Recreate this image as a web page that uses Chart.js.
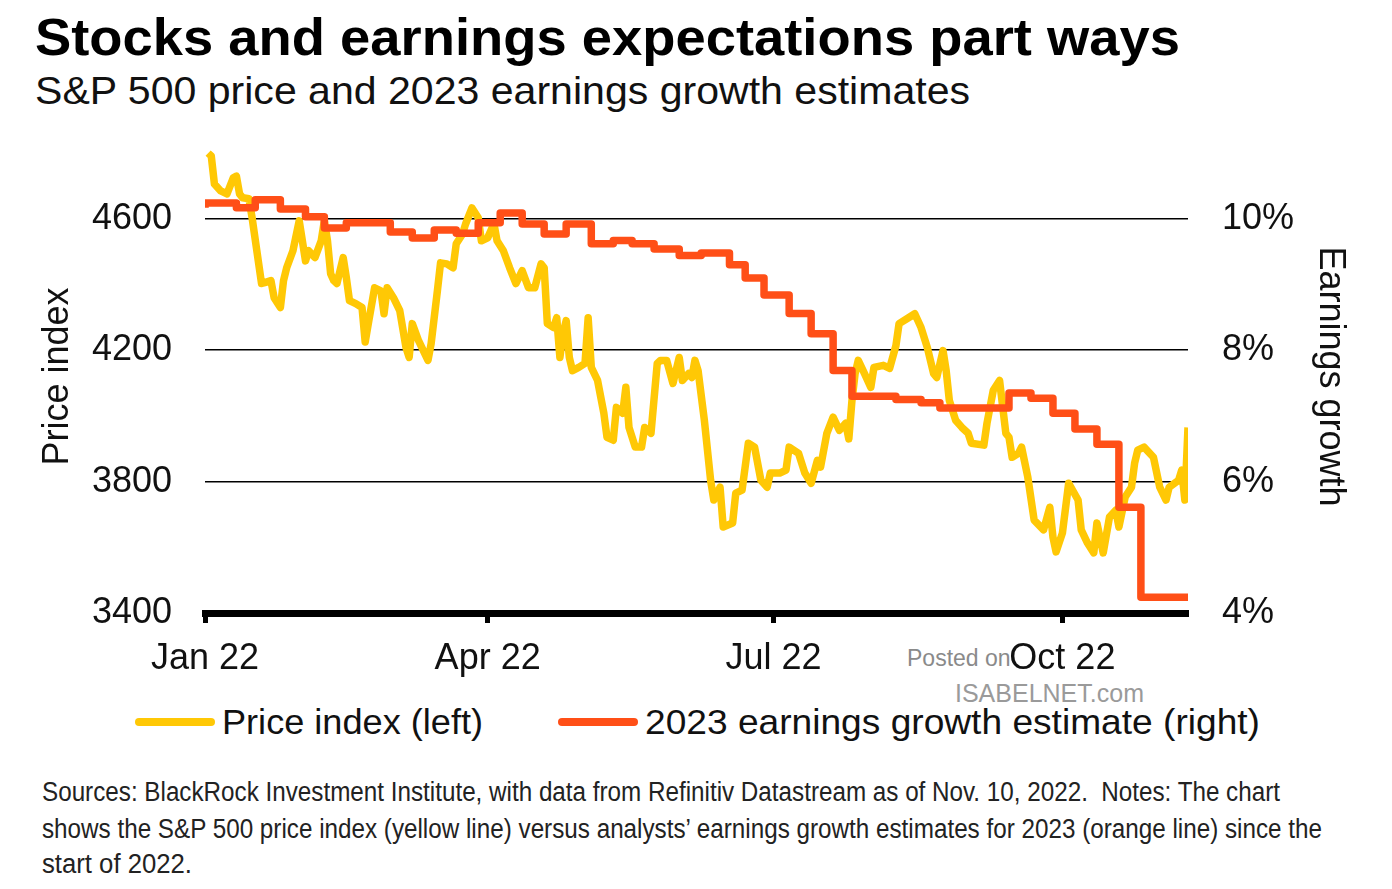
<!DOCTYPE html>
<html>
<head>
<meta charset="utf-8">
<script src="https://cdn.jsdelivr.net/npm/chart.js@4.4.0/dist/chart.umd.min.js"></script>
<style>
  body { margin: 0; background: #fff; width: 1392px; height: 889px; overflow: hidden; position: relative;
         font-family: "Liberation Sans", Arial, sans-serif; color: #111; }
  .t { position: absolute; white-space: nowrap; transform-origin: 0 50%; }
  #chartBox { position: absolute; left: 0; top: 130px; width: 1392px; height: 570px; }
  .key { position: absolute; height: 8px; border-radius: 4px; }
  .note { font-size: 27px; line-height: 34px; color: #222; left: 42px; }
</style>
</head>
<body>
<div class="t" data-w="1145" style="left:35px;top:7px;font-size:52px;line-height:60px;font-weight:bold;color:#000">Stocks and earnings expectations part ways</div>
<div class="t" data-w="935" style="left:35px;top:68px;font-size:39px;line-height:46px;color:#111">S&amp;P 500 price and 2023 earnings growth estimates</div>

<div class="t" style="left:907px;top:645px;font-size:23px;line-height:26px;color:#8a8a8a">Posted on</div>
<div class="t" style="left:955px;top:679px;font-size:25px;line-height:28px;color:#9a9a9a">ISABELNET.com</div>

<div id="chartBox"><canvas id="chart" width="1392" height="570"></canvas></div>

<div class="key" style="left:135px;top:718px;width:80px;background:#FFC805"></div>
<div class="t" data-w="261" style="left:222px;top:702px;font-size:35px;line-height:40px">Price index (left)</div>
<div class="key" style="left:558px;top:718px;width:80px;background:#FF4F17"></div>
<div class="t" data-w="615" style="left:645px;top:702px;font-size:35px;line-height:40px">2023 earnings growth estimate (right)</div>

<div class="t note" data-w="1238" style="top:775px">Sources: BlackRock Investment Institute, with data from Refinitiv Datastream as of Nov. 10, 2022.&nbsp; Notes: The chart</div>
<div class="t note" data-w="1280" style="top:812px">shows the S&amp;P 500 price index (yellow line) versus analysts’ earnings growth estimates for 2023 (orange line) since the</div>
<div class="t note" data-w="150" style="top:847px">start of 2022.</div>

<script>
// days since 1 Jan 2022
const priceDays = [1, 2, 3, 5, 7, 9, 10, 11, 12, 14, 15, 18, 19, 21, 22, 24, 25, 26, 28, 30,
  32, 33, 35, 37, 38, 39, 40, 41, 42, 44, 45, 46, 48, 50, 51, 52, 54, 56, 57, 58,
  60, 62, 64, 65, 66, 68, 71, 72, 74, 75, 77, 79, 80, 82, 83, 85, 87, 88, 90, 92,
  93, 95, 97, 99, 101, 103, 105, 107, 108, 109, 111, 112, 113, 114, 115, 116, 117, 119, 121, 122,
  123, 125, 127, 128, 130, 131, 133, 134, 135, 137, 139, 140, 142, 144, 145, 147, 149, 151, 152, 154,
  155, 156, 157, 159, 161, 162, 164, 165, 168, 169, 171, 173, 175, 177, 179, 180, 183, 185, 186, 189,
  191, 193, 195, 196, 198, 200, 202, 204, 205, 206, 207, 208, 210, 212, 213, 216, 218, 220, 221, 224,
  226, 228, 230, 232, 233, 235, 236, 237, 239, 241, 243, 244, 248, 249, 251, 253, 255, 256, 257, 259,
  260, 262, 264, 267, 269, 270, 271, 273, 275, 278, 279, 281, 283, 284, 286, 288, 290, 291, 293, 295,
  296, 297, 299, 302, 304, 306, 307, 310, 311, 312, 313];
const priceIndex = [4800, 4791, 4706, 4685, 4676, 4725, 4730, 4676, 4664, 4661, 4603, 4403, 4406, 4412, 4360, 4330, 4412, 4451, 4503, 4594,
  4472, 4503, 4482, 4533, 4594, 4533, 4433, 4412, 4403, 4482, 4421, 4351, 4342, 4330, 4225, 4281, 4390, 4381, 4311, 4390,
  4360, 4321, 4208, 4178, 4281, 4229, 4169, 4220, 4381, 4466, 4463, 4451, 4524, 4554, 4585, 4633, 4603, 4533, 4542, 4585,
  4533, 4503, 4451, 4403, 4442, 4390, 4390, 4463, 4451, 4281, 4269, 4299, 4178, 4251, 4290, 4178, 4138, 4148, 4160, 4299,
  4148, 4108, 4008, 3935, 3926, 4026, 4008, 4087, 3965, 3905, 3905, 3965, 3947, 4160, 4169, 4169, 4099, 4178, 4108, 4129,
  4117, 4169, 4138, 3987, 3804, 3744, 3783, 3662, 3674, 3765, 3774, 3917, 3905, 3804, 3783, 3826, 3826, 3835, 3905, 3886,
  3826, 3795, 3865, 3844, 3947, 3996, 3956, 3978, 3930, 4047, 4129, 4169, 4129, 4087, 4148, 4154, 4145, 4214, 4281, 4299,
  4311, 4269, 4208, 4129, 4117, 4199, 4138, 4047, 3987, 3965, 3947, 3917, 3911, 3978, 4078, 4108, 3947, 3935, 3874, 3886,
  3905, 3813, 3683, 3653, 3722, 3631, 3586, 3643, 3795, 3744, 3653, 3613, 3583, 3674, 3583, 3692, 3713, 3662, 3753, 3783,
  3856, 3896, 3905, 3874, 3783, 3744, 3783, 3804, 3835, 3744, 3965];

const estimateDays = [0, 10, 16, 24, 32, 38, 45, 59, 66, 73, 80, 87, 94, 101, 108, 115, 123, 130, 136, 143,
  151, 158, 167, 172, 178, 186, 193, 200, 206, 220, 228, 234, 256, 263, 270, 277, 284, 291, 298, 305, 313];
const estimateGrowth = [10.17, 10.24, 10.17, 10.29, 10.15, 10.03, 9.86, 9.94, 9.80, 9.71, 9.83, 9.78, 9.94, 10.09, 9.92, 9.77, 9.92, 9.62, 9.67, 9.62,
  9.54, 9.44, 9.48, 9.30, 9.10, 8.84, 8.56, 8.25, 7.69, 7.30, 7.25, 7.20, 7.12, 7.35, 7.27, 7.04, 6.80, 6.57, 5.61, 4.24, 4.24];

const monthTickDays = [0, 90, 181, 273];
const monthTickLabels = ["Jan 22", "Apr 22", "Jul 22", "Oct 22"];
const priceTicks = [3400, 3800, 4200, 4600];
const growthTicks = [4, 6, 8, 10];

// squeeze text to the widths in the picture
document.querySelectorAll("[data-w]").forEach((el) => {
  const w = el.getBoundingClientRect().width;
  el.style.transform = `scaleX(${el.dataset.w / w})`;
});

const tickFont = { family: "Liberation Sans", size: 36 };

// keep Chart.js from adding label overhang to the chart area
const noPad = (s) => { s.paddingTop = 0; s.paddingBottom = 0; s.paddingLeft = 0; s.paddingRight = 0; };

new Chart(document.getElementById("chart").getContext("2d"), {
  type: "line",
  data: {
    datasets: [
      {
        label: "Price index (left)",
        data: priceDays.map((d, i) => ({ x: d, y: priceIndex[i] })),
        borderColor: "#FFC805",
        borderWidth: 7.5,
        borderJoinStyle: "round",
        pointRadius: 0,
        tension: 0,
        yAxisID: "y",
        order: 2,
      },
      {
        label: "2023 earnings growth estimate (right)",
        data: estimateDays.map((d, i) => ({ x: d, y: estimateGrowth[i] })),
        borderColor: "#FF4F17",
        borderWidth: 7.5,
        borderJoinStyle: "round",
        stepped: "after",
        pointRadius: 0,
        yAxisID: "y1",
        order: 1,
      },
    ],
  },
  options: {
    responsive: false,
    animation: false,
    layout: { padding: { top: 10, left: 0, right: 0, bottom: 0 } },
    plugins: { legend: { display: false }, tooltip: { enabled: false } },
    scales: {
      x: {
        type: "linear",
        min: 0,
        max: 313,
        afterBuildTicks: (s) => { s.ticks = monthTickDays.map((v) => ({ value: v })); },
        afterFit: (s) => { s.height = 87; noPad(s); },
        ticks: {
          callback: (v) => monthTickLabels[monthTickDays.indexOf(v)],
          font: tickFont,
          color: "#111",
          padding: 14,
          maxRotation: 0,
          autoSkip: false,
        },
        grid: { drawOnChartArea: false, drawTicks: true, tickLength: 10, tickWidth: 5, tickColor: "#000" },
        border: { display: true, color: "#000", width: 7 },
      },
      y: {
        position: "left",
        min: 3400,
        max: 4840,
        afterBuildTicks: (s) => { s.ticks = priceTicks.map((v) => ({ value: v })); },
        afterFit: (s) => { s.width = 205; noPad(s); },
        ticks: { font: tickFont, color: "#111", padding: 33, callback: (v) => String(v) },
        grid: { color: "#000", lineWidth: 1.5, drawTicks: false },
        border: { display: false },
        title: { display: true, text: "Price index", font: tickFont, color: "#111", padding: { top: 36, bottom: 0 } },
      },
      y1: {
        position: "right",
        min: 4,
        max: 11.2,
        afterBuildTicks: (s) => { s.ticks = growthTicks.map((v) => ({ value: v })); },
        afterFit: (s) => { s.width = 204; noPad(s); },
        ticks: { font: tickFont, color: "#111", padding: 34, callback: (v) => v + "%" },
        grid: { display: false, drawTicks: false },
        border: { display: false },
        title: { display: true, text: "Earnings growth", font: tickFont, color: "#111", padding: { top: 40, bottom: 0 } },
      },
    },
  },
});
</script>
</body>
</html>
